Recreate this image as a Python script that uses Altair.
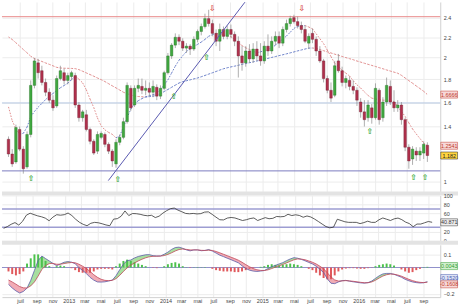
import altair as alt
import pandas as pd

# ---------------- data (biweekly candles) ----------------
dates = pd.date_range("2012-05-18", periods=114, freq="14D")

opens = [1.303, 1.193, 1.136, 1.379, 1.229, 1.101, 1.340, 1.747, 1.952, 1.879,
         1.773, 1.687, 1.619, 1.570, 1.808, 1.861, 1.791, 1.826, 1.835, 1.578,
         1.473, 1.497, 1.379, 1.288, 1.214, 1.318, 1.340, 1.265, 1.214, 1.122,
         1.280, 1.318, 1.441, 1.721, 1.578, 1.721, 1.738, 1.704, 1.721, 1.687,
         1.730, 1.653, 1.721, 1.861, 2.017, 2.121, 2.198, 2.159, 2.092, 2.111,
         2.083, 2.178, 2.256, 2.306, 2.387, 2.336, 2.237, 2.159, 2.276, 2.207,
         2.276, 2.227, 2.159, 2.017, 1.952, 2.064, 1.989, 2.083, 2.017, 1.970,
         2.111, 2.064, 2.159, 2.207, 2.140, 2.276, 2.336, 2.397, 2.356, 2.316,
         2.276, 2.140, 2.237, 2.178, 2.064, 1.970, 1.808, 1.704, 1.661, 1.970,
         1.879, 1.773, 1.791, 1.738, 1.704, 1.603, 1.521, 1.473, 1.554, 1.473,
         1.704, 1.473, 1.603, 1.738, 1.603, 1.554, 1.578, 1.457, 1.243, 1.157,
         1.214, 1.186, 1.200, 1.258]
highs = [1.325, 1.229, 1.417, 1.402, 1.251, 1.364, 1.791, 1.998, 1.989, 1.925,
         1.808, 1.721, 1.661, 1.835, 1.925, 1.898, 1.861, 1.879, 1.861, 1.603,
         1.537, 1.537, 1.394, 1.303, 1.364, 1.364, 1.356, 1.280, 1.229, 1.303,
         1.340, 1.473, 1.773, 1.747, 1.747, 1.808, 1.808, 1.791, 1.773, 1.791,
         1.756, 1.747, 1.879, 2.045, 2.140, 2.237, 2.227, 2.188, 2.140, 2.130,
         2.207, 2.276, 2.336, 2.438, 2.479, 2.377, 2.276, 2.336, 2.306, 2.316,
         2.326, 2.256, 2.207, 2.111, 2.111, 2.130, 2.140, 2.159, 2.140, 2.159,
         2.227, 2.207, 2.256, 2.256, 2.306, 2.377, 2.417, 2.427, 2.407, 2.356,
         2.316, 2.237, 2.286, 2.207, 2.111, 1.989, 1.835, 1.773, 1.970, 2.036,
         1.916, 1.835, 1.826, 1.791, 1.730, 1.636, 1.619, 1.619, 1.586, 1.765,
         1.721, 1.644, 1.817, 1.791, 1.704, 1.619, 1.603, 1.473, 1.265, 1.251,
         1.243, 1.243, 1.288, 1.280]
lows = [1.172, 1.101, 1.122, 1.214, 1.054, 1.088, 1.318, 1.721, 1.808, 1.747,
        1.653, 1.595, 1.529, 1.554, 1.791, 1.756, 1.756, 1.791, 1.554, 1.441,
        1.441, 1.364, 1.265, 1.186, 1.193, 1.303, 1.243, 1.193, 1.101, 1.095,
        1.258, 1.303, 1.425, 1.529, 1.562, 1.687, 1.670, 1.661, 1.653, 1.644,
        1.619, 1.628, 1.704, 1.844, 1.989, 2.092, 2.121, 2.064, 2.045, 2.026,
        2.064, 2.149, 2.217, 2.286, 2.306, 2.207, 2.111, 2.064, 2.178, 2.178,
        2.188, 2.111, 1.817, 1.879, 1.916, 1.952, 1.952, 1.970, 1.925, 1.943,
        2.017, 2.036, 2.121, 2.092, 2.111, 2.246, 2.306, 2.336, 2.286, 2.237,
        2.140, 2.083, 2.140, 2.017, 1.952, 1.773, 1.678, 1.603, 1.644, 1.861,
        1.738, 1.721, 1.704, 1.670, 1.570, 1.473, 1.402, 1.441, 1.425, 1.457,
        1.417, 1.441, 1.570, 1.578, 1.521, 1.521, 1.417, 1.214, 1.088, 1.115,
        1.143, 1.143, 1.157, 1.136]
closes = [1.193, 1.122, 1.394, 1.229, 1.088, 1.340, 1.747, 1.970, 1.861, 1.773,
          1.687, 1.619, 1.554, 1.808, 1.879, 1.791, 1.835, 1.861, 1.578, 1.473,
          1.521, 1.379, 1.288, 1.200, 1.340, 1.348, 1.265, 1.214, 1.143, 1.280,
          1.318, 1.441, 1.747, 1.554, 1.721, 1.747, 1.704, 1.721, 1.687, 1.738,
          1.653, 1.721, 1.861, 2.017, 2.121, 2.198, 2.159, 2.092, 2.111, 2.083,
          2.178, 2.256, 2.306, 2.387, 2.336, 2.237, 2.159, 2.276, 2.207, 2.276,
          2.227, 2.159, 2.017, 1.952, 2.064, 1.989, 2.083, 2.017, 1.970, 2.111,
          2.064, 2.159, 2.207, 2.140, 2.276, 2.336, 2.387, 2.356, 2.316, 2.276,
          2.159, 2.207, 2.178, 2.064, 1.970, 1.808, 1.704, 1.636, 1.925, 1.879,
          1.773, 1.808, 1.738, 1.704, 1.619, 1.521, 1.457, 1.578, 1.473, 1.721,
          1.457, 1.603, 1.747, 1.603, 1.554, 1.578, 1.457, 1.243, 1.143, 1.229,
          1.186, 1.214, 1.265, 1.182]
ma_long = [2.201, 2.176, 2.144, 2.111, 2.078, 2.047, 2.014, 1.992, 1.977, 1.965,
           1.951, 1.938, 1.924, 1.910, 1.904, 1.902, 1.901, 1.900, 1.898, 1.889,
           1.874, 1.859, 1.844, 1.829, 1.813, 1.798, 1.781, 1.762, 1.743, 1.725,
           1.706, 1.687, 1.674, 1.664, 1.654, 1.650, 1.648, 1.645, 1.649, 1.653,
           1.660, 1.674, 1.693, 1.711, 1.730, 1.749, 1.768, 1.780, 1.788, 1.796,
           1.805, 1.813, 1.824, 1.836, 1.848, 1.860, 1.872, 1.885, 1.897, 1.906,
           1.914, 1.921, 1.929, 1.938, 1.946, 1.953, 1.961, 1.969, 1.977, 1.986,
           1.994, 2.003, 2.011, 2.020, 2.028, 2.037, 2.046, 2.055, 2.065, 2.074,
           2.083, 2.092, 2.093, 2.089, 2.078, 2.067, 2.056, 2.045, 2.034, 2.023,
           2.012, 2.001, 1.991, 1.981, 1.969, 1.959, 1.948, 1.938, 1.928, 1.918,
           1.907, 1.897, 1.886, 1.876, 1.866, 1.856, 1.837, 1.813, 1.789, 1.766,
           1.742, 1.719, 1.695, 1.667]
ma_short = [1.562, 1.449, 1.384, 1.342, 1.349, 1.398, 1.481, 1.524, 1.560, 1.591,
            1.624, 1.652, 1.676, 1.702, 1.726, 1.746, 1.767, 1.798, 1.829, 1.802,
            1.769, 1.708, 1.628, 1.557, 1.471, 1.408, 1.376, 1.356, 1.341, 1.314,
            1.329, 1.398, 1.473, 1.543, 1.591, 1.614, 1.632, 1.648, 1.657, 1.666,
            1.676, 1.708, 1.751, 1.796, 1.858, 1.921, 1.976, 2.019, 2.060, 2.084,
            2.107, 2.128, 2.151, 2.177, 2.208, 2.224, 2.237, 2.230, 2.221, 2.213,
            2.205, 2.176, 2.146, 2.116, 2.095, 2.078, 2.061, 2.047, 2.056, 2.069,
            2.081, 2.092, 2.121, 2.151, 2.180, 2.211, 2.248, 2.287, 2.308, 2.312,
            2.316, 2.301, 2.282, 2.233, 2.184, 2.136, 2.073, 2.011, 1.948, 1.918,
            1.884, 1.857, 1.831, 1.788, 1.752, 1.724, 1.690, 1.659, 1.636, 1.629,
            1.622, 1.619, 1.618, 1.617, 1.607, 1.566, 1.524, 1.484, 1.431, 1.383,
            1.344, 1.309, 1.274, 1.254]
rsi = [27.6, 31.5, 36.5, 40.2, 34.8, 43.0, 56.5, 60.9, 57.8, 55.0,
       53.0, 50.0, 44.3, 52.2, 57.6, 56.5, 57.6, 61.3, 55.7, 47.6,
       40.9, 36.3, 33.3, 38.7, 40.7, 39.8, 37.6, 35.0, 33.3, 47.8,
       48.9, 54.3, 65.9, 55.7, 60.2, 59.8, 58.5, 56.3, 55.2, 56.3,
       51.3, 54.3, 61.1, 66.5, 70.9, 72.2, 67.6, 64.1, 60.4, 59.6,
       60.4, 59.3, 60.0, 63.3, 63.9, 58.3, 52.2, 46.5, 46.1, 50.2,
       51.5, 50.4, 47.6, 44.8, 46.5, 49.1, 50.4, 44.8, 48.0, 51.1,
       48.7, 49.6, 53.7, 53.0, 53.7, 58.5, 55.7, 57.4, 55.9, 52.0,
       54.8, 52.6, 48.0, 42.6, 37.0, 31.5, 28.7, 30.2, 47.6, 44.8,
       42.0, 40.7, 40.7, 40.7, 38.0, 40.2, 43.3, 40.7, 40.7, 46.5,
       50.4, 47.6, 44.8, 48.5, 50.2, 46.7, 41.3, 38.0, 31.1, 37.0,
       37.0, 39.8, 42.6, 40.871]
macd = [-0.128, -0.156, -0.178, -0.194, -0.183, -0.157, -0.098, -0.022, 0.053, 0.087,
        0.068, 0.050, 0.031, 0.014, 0.027, 0.040, 0.045, 0.041, 0.029, -0.001,
        -0.022, -0.046, -0.075, -0.096, -0.110, -0.111, -0.109, -0.103, -0.096, -0.063,
        -0.017, 0.026, 0.052, 0.057, 0.073, 0.084, 0.091, 0.097, 0.098, 0.090,
        0.088, 0.088, 0.101, 0.117, 0.138, 0.152, 0.155, 0.146, 0.134, 0.127,
        0.134, 0.134, 0.128, 0.130, 0.137, 0.125, 0.110, 0.094, 0.083, 0.071,
        0.060, 0.048, 0.036, 0.013, -0.007, -0.020, -0.027, -0.030, -0.027, -0.023,
        -0.008, 0.006, 0.016, 0.027, 0.037, 0.052, 0.065, 0.075, 0.071, 0.062,
        0.051, 0.039, 0.027, 0.010, -0.013, -0.038, -0.086, -0.120, -0.123, -0.110,
        -0.100, -0.098, -0.104, -0.109, -0.113, -0.117, -0.119, -0.115, -0.103, -0.083,
        -0.063, -0.049, -0.045, -0.045, -0.052, -0.063, -0.074, -0.090, -0.101, -0.110,
        -0.115, -0.118, -0.116, -0.108]
signal = [-0.095, -0.110, -0.127, -0.145, -0.155, -0.156, -0.140, -0.110, -0.065, -0.015,
          0.015, 0.030, 0.031, 0.025, 0.025, 0.030, 0.035, 0.038, 0.036, 0.025,
          0.010, -0.008, -0.030, -0.055, -0.075, -0.090, -0.098, -0.100, -0.098, -0.085,
          -0.060, -0.030, -0.003, 0.018, 0.035, 0.050, 0.063, 0.074, 0.082, 0.085,
          0.086, 0.087, 0.091, 0.100, 0.112, 0.126, 0.137, 0.141, 0.138, 0.134,
          0.134, 0.134, 0.131, 0.130, 0.132, 0.130, 0.122, 0.112, 0.101, 0.090,
          0.079, 0.068, 0.056, 0.040, 0.022, 0.006, -0.008, -0.017, -0.022, -0.023,
          -0.018, -0.008, 0.003, 0.013, 0.023, 0.035, 0.047, 0.059, 0.065, 0.064,
          0.059, 0.050, 0.040, 0.027, 0.010, -0.010, -0.040, -0.072, -0.095, -0.103,
          -0.102, -0.100, -0.102, -0.105, -0.109, -0.113, -0.116, -0.116, -0.110, -0.097,
          -0.080, -0.065, -0.055, -0.050, -0.051, -0.057, -0.066, -0.078, -0.090, -0.100,
          -0.108, -0.113, -0.115, -0.112]
hist = [-0.03, -0.05, -0.06, -0.05, -0.03, 0.03, 0.07, 0.10, 0.10, 0.08,
        0.05, 0.01, 0.0, 0.01, 0.015, 0.01, 0.0, -0.005, -0.02, -0.035,
        -0.04, -0.04, -0.04, -0.03, -0.015, -0.01, -0.01, -0.01, -0.015, 0.01,
        0.03, 0.05, 0.06, 0.05, 0.04, 0.03, 0.02, 0.01, 0.0, -0.003,
        -0.005, 0.0, 0.01, 0.025, 0.035, 0.04, 0.03, 0.01, 0.002, -0.003,
        0.002, 0.003, 0.002, 0.003, 0.0, -0.01, -0.02, -0.025, -0.03, -0.03,
        -0.03, -0.035, -0.035, -0.03, -0.02, -0.01, -0.005, 0.0, 0.005, 0.01,
        0.02, 0.025, 0.02, 0.015, 0.02, 0.025, 0.03, 0.025, 0.02, 0.01,
        0.0, -0.01, -0.02, -0.04, -0.06, -0.08, -0.09, -0.09, -0.06, -0.03,
        -0.015, -0.008, -0.005, -0.005, -0.008, -0.01, -0.01, -0.005, -0.002, 0.01,
        0.02, 0.025, 0.03, 0.025, 0.015, 0.0, -0.015, -0.03, -0.04, -0.035,
        -0.02, -0.01, 0.003, 0.005]

# horizontal levels and trend line
level_prices = [2.407, 1.595, 1.073]
level_colors = ["#e98a8a", "#b5c8e4", "#7b7bbf"]
trend_dates = ["2013-05-30", "2014-10-28"]
trend_prices = [1.007, 2.56]

# signal arrows
arrow_dates = ["2012-08-11", "2013-07-05", "2014-02-01", "2014-06-05", "2016-02-12",
               "2016-07-26", "2016-09-07", "2014-06-27", "2015-05-31"]
arrow_prices = [1.020, 1.013, 1.644, 1.998, 1.356, 1.027, 1.027, 2.49, 2.49]
arrow_up = [True, True, True, True, True, True, True, False, False]

# last-value tags
price_tag_vals = [1.6666, 1.2541, 1.182]
price_tag_text = ["1.6666", "1.2541", "1.182"]
price_tag_fill = ["#f7d9d9", "#f7d9d9", "#ffd640"]
price_tag_col = ["#c0392b", "#c0392b", "#222222"]
rsi_tag_vals = [40.871]
rsi_tag_text = ["40.871"]
macd_tag_vals = [0.011, -0.080, -0.128]
macd_tag_text = ["0.0043", "-0.1520", "-0.1608"]
macd_tag_fill = ["#d4f0d0", "#dde3f5", "#f7d9d9"]
macd_tag_col = ["#2e9b2e", "#4a5bb0", "#c0392b"]

month_names = ["", "", "mar", "", "mai", "", "juil", "", "sep", "", "nov", ""]
tick_months = [(y, m) for y in range(2012, 2017) for m in (1, 3, 5, 7, 9, 11)
               if (2012, 7) <= (y, m) <= (2016, 9)]
price_ticks = [1, 1.4, 1.6, 1.8, 2, 2.2, 2.4]
rsi_ticks = [0, 20, 60, 80, 100]
rsi_levels = [70, 30]
macd_ticks = [-0.2, 0.1]

# ---------------- frames ----------------
df = pd.DataFrame(dict(date=dates, open=opens, high=highs, low=lows, close=closes,
                       ma_long=ma_long, ma_short=ma_short, rsi=rsi,
                       macd=macd, signal=signal, hist=hist))
levels = pd.DataFrame(dict(price=level_prices, col=level_colors))
trend = pd.DataFrame(dict(date=pd.to_datetime(trend_dates), price=trend_prices))
arrows = pd.DataFrame(dict(date=pd.to_datetime(arrow_dates), price=arrow_prices,
                           sym=["\u21e7" if u else "\u21e9" for u in arrow_up],
                           col=["#3daa3d" if u else "#d9534f" for u in arrow_up]))
ptags = pd.DataFrame(dict(v=price_tag_vals, t=price_tag_text, f=price_tag_fill, c=price_tag_col))
rtags = pd.DataFrame(dict(v=rsi_tag_vals, t=rsi_tag_text, f=["#eeeeee"], c=["#333333"]))
mtags = pd.DataFrame(dict(v=macd_tag_vals, t=macd_tag_text, f=macd_tag_fill, c=macd_tag_col))
one = pd.DataFrame(dict(a=[0]))

W = 444
H1, H2, H3 = 192, 46, 53
FONT = "Liberation Sans"
GREEN, RED = "#3fa83f", "#b0304c"
BOX = "M-1,-0.42L1,-0.42L1,0.42L-1,0.42Z"

xscale = alt.Scale(domain=[alt.DateTime(year=2012, month=5, date=12),
                           alt.DateTime(year=2016, month=10, date=16)])
tick_vals = [alt.DateTime(year=y, month=m, date=1) for (y, m) in tick_months]
names_js = "[" + ",".join("'%s'" % n for n in month_names) + "]"
x_hidden = alt.Axis(values=tick_vals, labels=False, ticks=False, domain=False,
                    grid=True, gridColor="#ececec", title=None)
x_bottom = alt.Axis(values=tick_vals, ticks=False, domain=True, domainColor="#d0d0d0",
                    grid=True, gridColor="#ececec", title=None, labelFontSize=5.5,
                    labelPadding=1, labelColor="#444", labelOverlap=False,
                    labelExpr="month(datum.value) == 0 ? timeFormat(datum.value, '%Y') : "
                              + names_js + "[month(datum.value)]")


def right_axis(vals, fmt):
    return alt.Axis(orient="right", values=vals, format=fmt, title=None, ticks=False,
                    domain=True, domainColor="#d0d0d0", grid=True, gridColor="#ececec",
                    labelFontSize=5.5, labelPadding=3, labelColor="#444",
                    labelOverlap=False, labelBound=False, labelFlush=False)


P_AXIS = right_axis(price_ticks, "~g")
R_AXIS = right_axis(rsi_ticks, "d")
M_AXIS = right_axis(macd_ticks, "~g")


def xenc(axis):
    return alt.X("date:T", scale=xscale, axis=axis)


def yenc(field, scale, axis):
    return alt.Y(field, scale=scale, axis=axis)


def tags(data, field_scale, axis):
    box = alt.Chart(data).mark_point(shape=BOX, filled=True, size=289, opacity=1,
                                     strokeWidth=0.5).encode(
        x=alt.value(453), y=yenc("v:Q", field_scale, axis),
        fill=alt.Color("f:N", scale=None), stroke=alt.Color("c:N", scale=None))
    txt = alt.Chart(data).mark_text(fontSize=5.5, font=FONT, align="center",
                                    baseline="middle").encode(
        x=alt.value(453), y=yenc("v:Q", field_scale, axis), text="t:N",
        color=alt.Color("c:N", scale=None))
    return box + txt


def separator(h):
    return alt.Chart(one).mark_rule(color="#e3e3e3", strokeWidth=4).encode(
        x=alt.value(0), x2=alt.value(462), y=alt.value(h + 2))


def ma_layer(field, ys, axis):
    return alt.Chart(df).transform_window(
        nv="lead(%s)" % field, nd="lead(date)", sort=[alt.SortField("date")]
    ).transform_filter("datum.nv != null").transform_calculate(
        col="datum.nv >= datum.%s ? '#6b80c8' : '#e08c8c'" % field
    ).mark_rule(strokeDash=[1.6, 1.4], strokeWidth=1).encode(
        x=xenc(x_hidden), x2=alt.X2("nd"), y=yenc("%s:Q" % field, ys, axis),
        y2=alt.Y2("nv"), color=alt.Color("col:N", scale=None))


# ---------------- price panel ----------------
yp = alt.Scale(type="sqrt", domain=[0.935, 2.562], nice=False, zero=False)

lvl = alt.Chart(levels).mark_rule(strokeWidth=1).encode(
    y=yenc("price:Q", yp, P_AXIS), color=alt.Color("col:N", scale=None))
candles = alt.Chart(df).transform_calculate(
    col="datum.close >= datum.open ? '%s' : '%s'" % (GREEN, RED),
    edge="datum.close >= datum.open ? '#2a6e2a' : '#6e1e30'")
wicks = candles.mark_rule(color="#8a8a8a", strokeWidth=0.7).encode(
    x=xenc(x_hidden), y=yenc("low:Q", yp, P_AXIS), y2="high:Q")
bodies = candles.mark_bar(size=2.6, strokeWidth=0.4).encode(
    x=xenc(x_hidden), y=yenc("open:Q", yp, P_AXIS), y2="close:Q",
    color=alt.Color("col:N", scale=None), stroke=alt.Color("edge:N", scale=None))
trendline = alt.Chart(trend).mark_line(color="#5858b0", strokeWidth=1, clip=True).encode(
    x=xenc(x_hidden), y=yenc("price:Q", yp, P_AXIS))
arrow_marks = alt.Chart(arrows).mark_text(fontSize=8, font="DejaVu Sans", fontWeight="bold",
                                          baseline="middle").encode(
    x=xenc(x_hidden), y=yenc("price:Q", yp, P_AXIS), text="sym:N",
    color=alt.Color("col:N", scale=None))

price = alt.layer(lvl, ma_layer("ma_long", yp, P_AXIS), ma_layer("ma_short", yp, P_AXIS),
                  wicks, bodies, trendline, arrow_marks, tags(ptags, yp, P_AXIS),
                  separator(H1)).properties(width=W, height=H1)

# ---------------- RSI panel ----------------
yr = alt.Scale(domain=[0, 100], nice=False)
rlev = alt.Chart(pd.DataFrame(dict(v=rsi_levels))).mark_rule(color="#9d9dd2", strokeWidth=1.5).encode(
    y=yenc("v:Q", yr, R_AXIS))
rline = alt.Chart(df).mark_line(color="#333333", strokeWidth=0.8).encode(
    x=xenc(x_hidden), y=yenc("rsi:Q", yr, R_AXIS))
rsi_panel = alt.layer(rlev, rline, tags(rtags, yr, R_AXIS), separator(H2)
                      ).properties(width=W, height=H2)

# ---------------- MACD panel ----------------
ym = alt.Scale(domain=[-0.2256, 0.173], nice=False, zero=False)
mbase = alt.Chart(df).transform_calculate(top="max(datum.macd, datum.signal)",
                                          bot="min(datum.macd, datum.signal)")
zero = alt.Chart(one).mark_rule(color="#8f8fca", strokeWidth=1).encode(
    y=yenc("a:Q", ym, M_AXIS))
g_area = mbase.mark_area(color="#9fdc95", opacity=0.9).encode(
    x=xenc(x_bottom), y=yenc("top:Q", ym, M_AXIS), y2="signal:Q")
r_area = mbase.mark_area(color="#f0a3ad", opacity=0.9).encode(
    x=xenc(x_bottom), y=yenc("signal:Q", ym, M_AXIS), y2="bot:Q")
bars = alt.Chart(df).transform_calculate(
    col="datum.hist >= 0 ? '#4cc24c' : '#e0595c'").mark_bar(size=2).encode(
    x=xenc(x_bottom), y=yenc("hist:Q", ym, M_AXIS), y2=alt.datum(0),
    color=alt.Color("col:N", scale=None))
mline = alt.Chart(df).mark_line(color="#5b5ba8", strokeWidth=0.8).encode(
    x=xenc(x_bottom), y=yenc("macd:Q", ym, M_AXIS))
sline = alt.Chart(df).mark_line(color="#c0485a", strokeWidth=0.8).encode(
    x=xenc(x_bottom), y=yenc("signal:Q", ym, M_AXIS))
macd_panel = alt.layer(zero, g_area, r_area, bars, mline, sline, tags(mtags, ym, M_AXIS)
                       ).properties(width=W, height=H3)

chart = alt.vconcat(price, rsi_panel, macd_panel, spacing=4, bounds="flush").properties(
    padding=0, background="white"
).configure_view(stroke=None).configure_axis(labelFont=FONT)

chart.save("out.html", embed_options={"renderer": "svg", "actions": False})
